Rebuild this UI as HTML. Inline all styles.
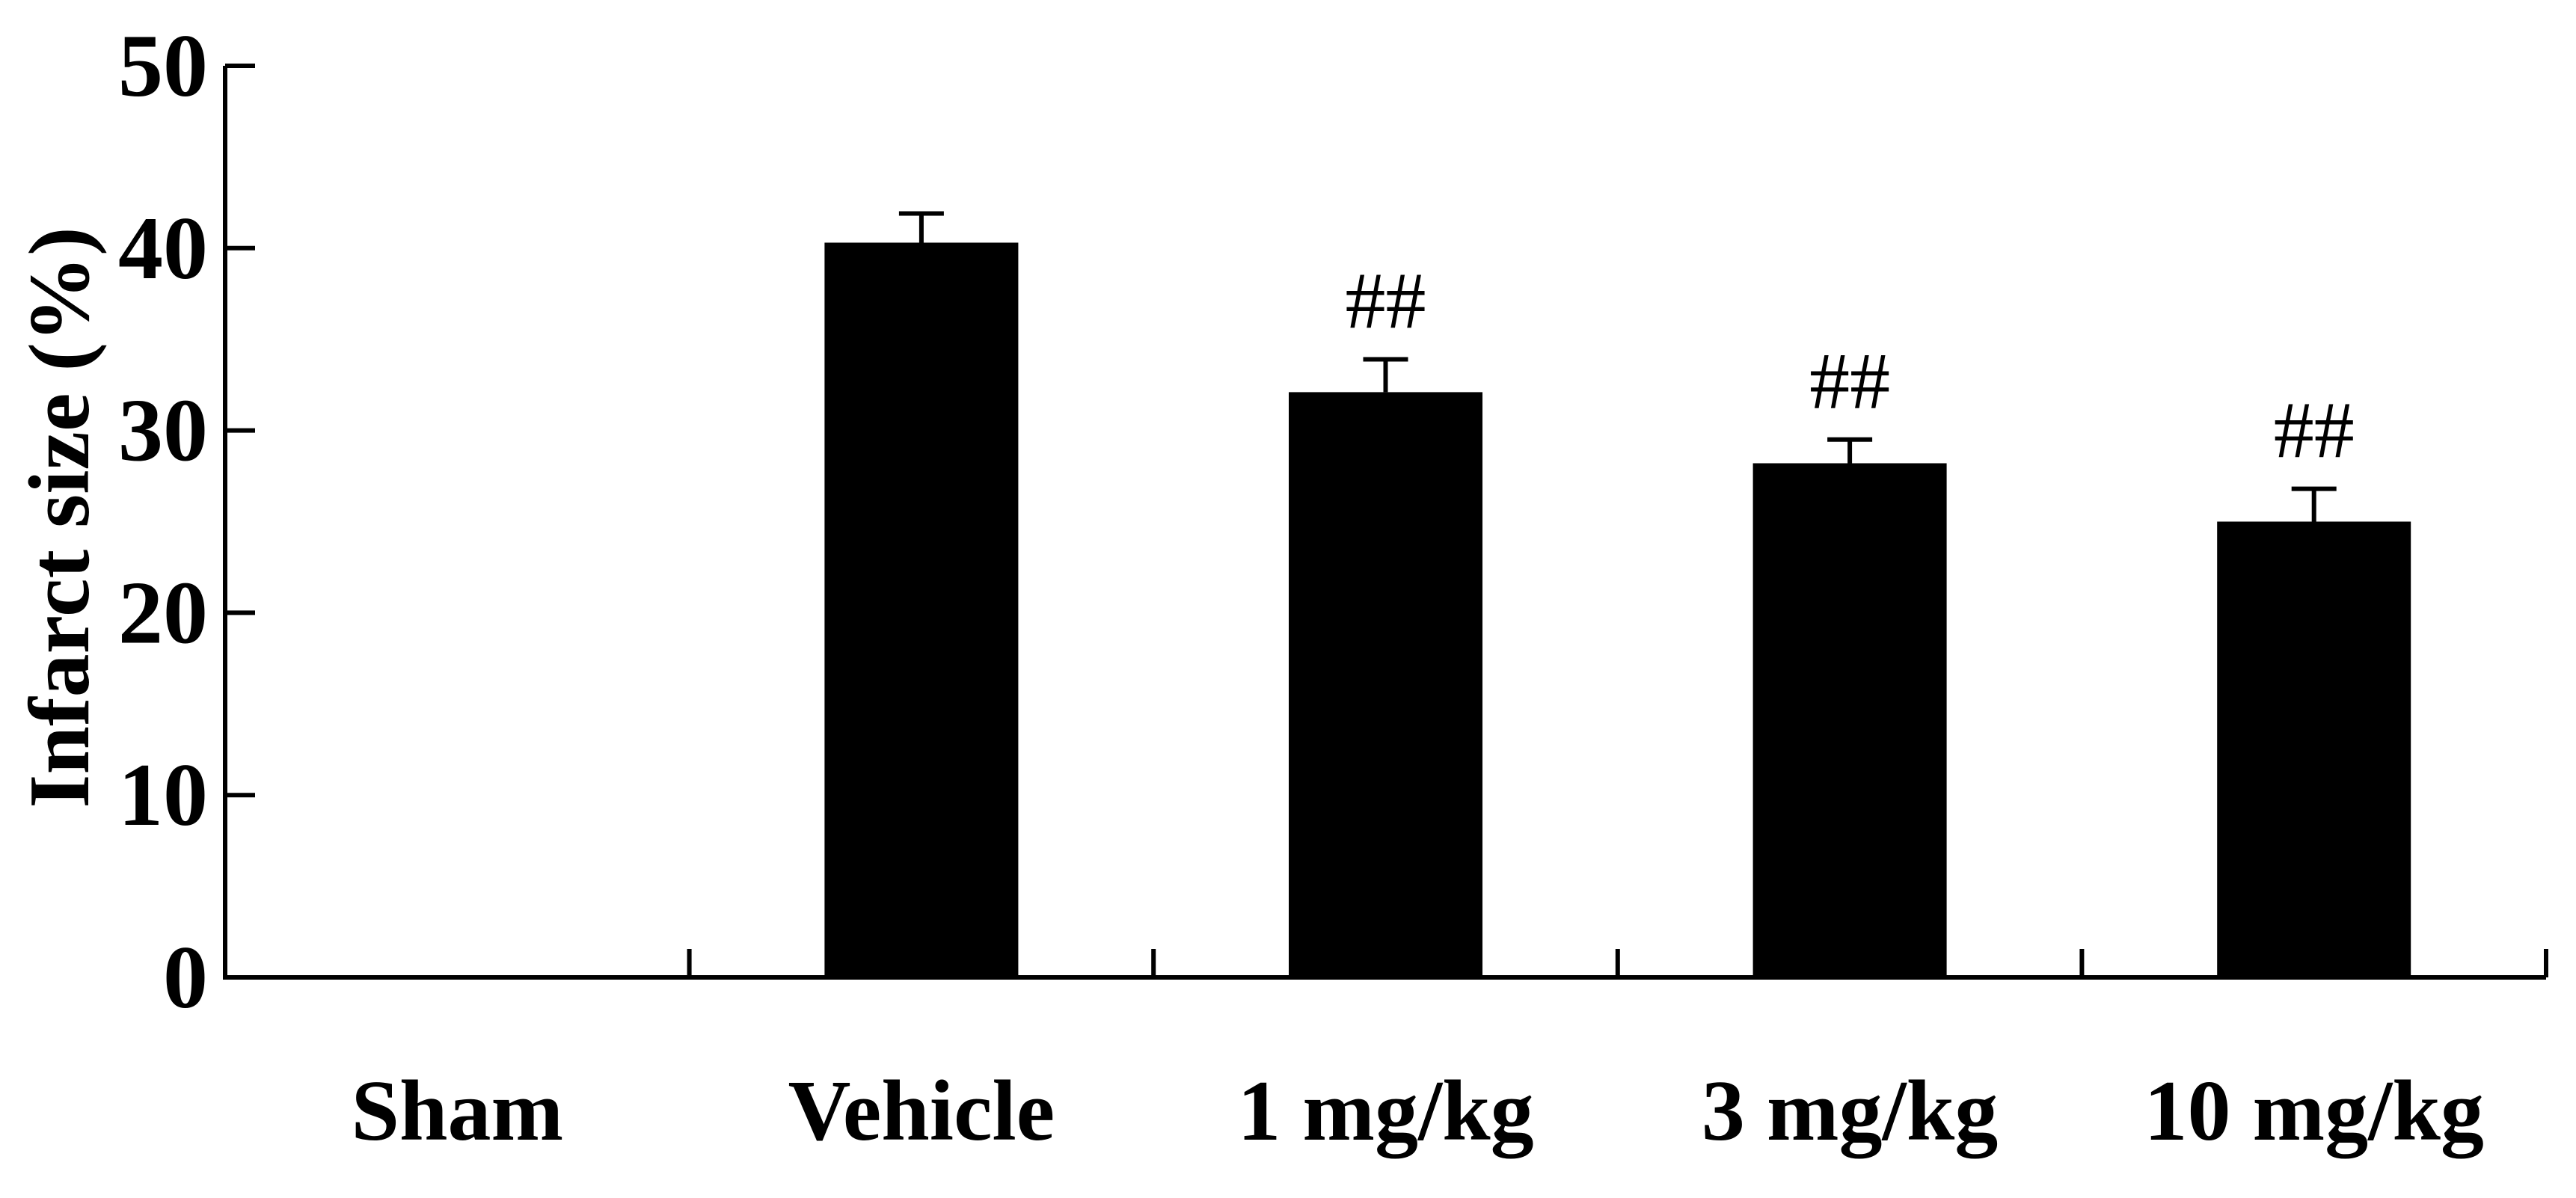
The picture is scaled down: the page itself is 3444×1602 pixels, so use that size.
<!DOCTYPE html>
<html><head><meta charset="utf-8"><style>
html,body{margin:0;padding:0;background:#fff;}
svg{display:block;font-family:"Liberation Serif",serif;}
</style></head><body>
<svg id="chart" width="3444" height="1602" viewBox="0 0 3444 1602" xmlns="http://www.w3.org/2000/svg"></svg>
<script>
const categories = ["Sham", "Vehicle", "1 mg/kg", "3 mg/kg", "10 mg/kg"];
const values = [0, 40.3, 32.1, 28.2, 25.0];
const errors = [0, 1.6, 1.8, 1.3, 1.8];
const marks = ["", "", "##", "##", "##"];
const yTicks = [0, 10, 20, 30, 40, 50];

const svg = document.getElementById('chart');
const NS = 'http://www.w3.org/2000/svg';
const x0 = 301, x1 = 3404, y0 = 1307, y1 = 88, yMax = 50;
const band = (x1 - x0) / categories.length;
function yScale(v){ return y0 - (v / yMax) * (y0 - y1); }
function xCenter(i){ return x0 + band * (i + 0.5); }
function mk(tag, attrs, parent){
  const e = document.createElementNS(NS, tag);
  for (const k in attrs) e.setAttribute(k, attrs[k]);
  (parent || svg).appendChild(e);
  return e;
}

const yAxis = mk('line', {x1:x0, y1:y1, x2:x0, y2:y0+2, stroke:'#000', 'stroke-width':6});


const xAxis = mk('line', {x1:x0-3, y1:y0, x2:x1, y2:y0, stroke:'#000', 'stroke-width':6});



yTicks.forEach(t => {
  const y = yScale(t);
  const tk = mk('line', {x1:x0, y1:y, x2:x0+40, y2:y, stroke:'#000', 'stroke-width':6});
  
  
  const lb = mk('text', {x:278, y:y+40, 'text-anchor':'end', 'font-size':120, 'font-weight':'bold'});
  lb.textContent = t;
  
  
});

for (let i = 1; i <= categories.length; i++) {
  const x = x0 + band * i;
  const tk = mk('line', {x1:x, y1:y0, x2:x, y2:y0-38, stroke:'#000', 'stroke-width':6});
  
  
}

const bw = 259;
categories.forEach((c, i) => {
  const cx = xCenter(i);
  if (values[i] > 0) {
    const top = yScale(values[i]);
    const eTop = yScale(values[i] + errors[i]);
    const el = mk('line', {x1:cx, y1:top, x2:cx, y2:eTop, stroke:'#000', 'stroke-width':6});
    
    
    const cap = mk('line', {x1:cx-30, y1:eTop, x2:cx+30, y2:eTop, stroke:'#000', 'stroke-width':6});
    
    
    const r = mk('rect', {x:cx-bw/2, y:top, width:bw, height:y0-top, fill:'#000'});
    
    
    if (marks[i]) {
      const m = mk('text', {x:cx, y:eTop-42, 'text-anchor':'middle', 'font-size':108});
      m.textContent = marks[i];
      
      
    }
  }
  const lb = mk('text', {x:cx, y:1524, 'text-anchor':'middle', 'font-size':116, 'font-weight':'bold'});
  lb.textContent = c;
  
  
});

const yt = mk('text', {x:0, y:0, 'text-anchor':'middle', 'font-size':116, 'font-weight':'bold', transform:'translate(118,692) rotate(-90)'});
yt.textContent = 'Infarct size (%)';


</script>
</body></html>
